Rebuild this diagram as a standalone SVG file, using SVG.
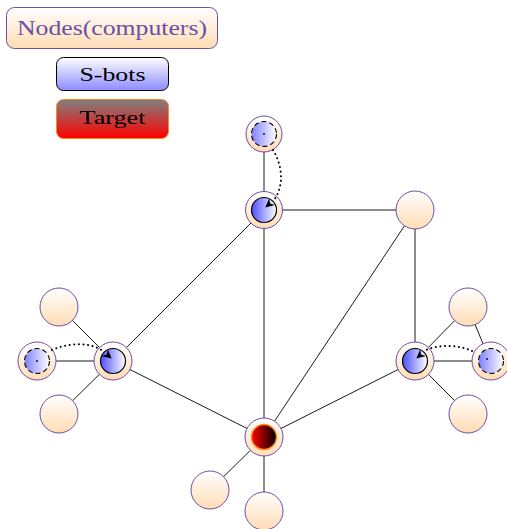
<svg xmlns="http://www.w3.org/2000/svg" width="507" height="529" viewBox="0 0 507 529">
  <defs>
    <linearGradient id="peach" x1="0" y1="0" x2="0" y2="1">
      <stop offset="0" stop-color="#ffffff"/>
      <stop offset="1" stop-color="#ffdcb4"/>
    </linearGradient>
    <linearGradient id="botLegend" x1="0" y1="0" x2="0" y2="1">
      <stop offset="0" stop-color="#ffffff"/>
      <stop offset="1" stop-color="#8c8cff"/>
    </linearGradient>
    <linearGradient id="targetLegend" x1="0" y1="0" x2="0" y2="1">
      <stop offset="0" stop-color="#808080"/>
      <stop offset="1" stop-color="#ff0000"/>
    </linearGradient>
    <linearGradient id="bot" x1="0" y1="0" x2="1" y2="0">
      <stop offset="0" stop-color="#4d4dff"/>
      <stop offset="1" stop-color="#ffffff"/>
    </linearGradient>
    <linearGradient id="ghost" x1="0" y1="0" x2="1" y2="0">
      <stop offset="0" stop-color="#8080ff"/>
      <stop offset="1" stop-color="#ffffff"/>
    </linearGradient>
    <linearGradient id="target" x1="0" y1="0" x2="1" y2="0">
      <stop offset="0" stop-color="#ff0000"/>
      <stop offset="1" stop-color="#000000"/>
    </linearGradient>
    <marker id="tip" viewBox="0 0 10 10" refX="9" refY="5" markerWidth="9" markerHeight="9" markerUnits="userSpaceOnUse" orient="auto">
      <path d="M0,0 L10,5 L0,10 L3,5 Z" fill="#000"/>
    </marker>
    <style>
      .node { fill: url(#peach); stroke: #6a4fa8; stroke-width: 1; }
      .bot { fill: url(#bot); stroke: #000; stroke-width: 1.2; }
      .ghost { fill: url(#ghost); stroke: #000; stroke-width: 1.1; stroke-dasharray: 5 3; }
      .tgt { fill: url(#target); stroke: #ff8c1a; stroke-width: 1.5; }
      .edge { stroke: #000; stroke-width: 0.9; fill: none; }
      .move { stroke: #000; stroke-width: 2; stroke-dasharray: 0.1 4.5; stroke-linecap: round; fill: none; }
      .lbl { font-family: "Liberation Serif", "DejaVu Serif", serif; text-anchor: middle; }
    </style>
  </defs>

  <!-- legend -->
  <g id="legend-nodes">
    <rect x="6.5" y="7.5" width="211" height="41" rx="8" fill="url(#peach)" stroke="#6a4fa8"/>
    <text class="lbl" x="112" y="35" font-size="21" fill="#6a4fa8" textLength="190" lengthAdjust="spacingAndGlyphs">Nodes(computers)</text>
  </g>
  <g id="legend-sbots">
    <rect x="56.5" y="57.5" width="112" height="33" rx="7" fill="url(#botLegend)" stroke="#000"/>
    <text class="lbl" x="112.5" y="81" font-size="19" fill="#000" textLength="66" lengthAdjust="spacingAndGlyphs">S-bots</text>
  </g>
  <g id="legend-target">
    <rect x="56.5" y="99.5" width="112" height="39" rx="7" fill="url(#targetLegend)" stroke="#ff8c1a"/>
    <text class="lbl" x="112.5" y="124" font-size="19" fill="#000" textLength="66" lengthAdjust="spacingAndGlyphs">Target</text>
  </g>

  <!-- connectors -->
  <g id="edges">
    <line class="edge" x1="264" y1="134" x2="264" y2="210"/>
    <line class="edge" x1="264" y1="210" x2="415" y2="210"/>
    <line class="edge" x1="264" y1="210" x2="113" y2="361"/>
    <line class="edge" x1="264" y1="210" x2="264" y2="437"/>
    <line class="edge" x1="415" y1="210" x2="264" y2="437"/>
    <line class="edge" x1="415" y1="210" x2="415" y2="361"/>
    <line class="edge" x1="113" y1="361" x2="264" y2="437"/>
    <line class="edge" x1="415" y1="361" x2="264" y2="437"/>
    <line class="edge" x1="113" y1="361" x2="59" y2="307"/>
    <line class="edge" x1="113" y1="361" x2="37" y2="361"/>
    <line class="edge" x1="113" y1="361" x2="59" y2="414"/>
    <line class="edge" x1="415" y1="361" x2="468" y2="307"/>
    <line class="edge" x1="415" y1="361" x2="490" y2="361"/>
    <line class="edge" x1="415" y1="361" x2="468" y2="414"/>
    <line class="edge" x1="468" y1="307" x2="490" y2="361"/>
    <line class="edge" x1="264" y1="437" x2="210" y2="490"/>
    <line class="edge" x1="264" y1="437" x2="264" y2="511"/>
  </g>

  <!-- plain nodes -->
  <g id="n-415-210"><circle class="node" cx="415" cy="210" r="19"/></g>
  <g id="n-59-307"><circle class="node" cx="59" cy="307" r="19"/></g>
  <g id="n-59-414"><circle class="node" cx="59" cy="414" r="19"/></g>
  <g id="n-468-307"><circle class="node" cx="468" cy="307" r="19"/></g>
  <g id="n-468-414"><circle class="node" cx="468" cy="414" r="19"/></g>
  <g id="n-210-490"><circle class="node" cx="210" cy="490" r="19"/></g>
  <g id="n-264-511"><circle class="node" cx="264" cy="511" r="19"/></g>

  <!-- nodes holding previous bot positions -->
  <g id="n-264-134">
    <circle class="node" cx="264" cy="134" r="18"/>
    <circle class="ghost" cx="264" cy="134" r="12.5"/>
    <circle cx="264" cy="134" r="0.9" fill="#000"/>
  </g>
  <g id="n-37-361">
    <circle class="node" cx="37" cy="361" r="19"/>
    <circle class="ghost" cx="37" cy="361" r="12.5"/>
    <circle cx="37" cy="361" r="0.9" fill="#000"/>
  </g>
  <g id="n-490-361">
    <circle class="node" cx="491" cy="361" r="19"/>
    <circle class="ghost" cx="491" cy="361" r="12.5"/>
    <circle cx="487" cy="359" r="0.9" fill="#000"/>
  </g>

  <!-- nodes holding bots -->
  <g id="n-264-210">
    <circle class="node" cx="264" cy="210" r="18.5"/>
    <circle class="bot" cx="264" cy="210" r="12.5"/>
  </g>
  <g id="n-113-361">
    <circle class="node" cx="113" cy="361" r="19"/>
    <circle class="bot" cx="113" cy="361" r="12.5"/>
  </g>
  <g id="n-415-361">
    <circle class="node" cx="415" cy="361" r="19"/>
    <circle class="bot" cx="415" cy="361" r="12.5"/>
  </g>

  <!-- target node -->
  <g id="n-264-437">
    <circle class="node" cx="264" cy="437" r="19"/>
    <circle class="tgt" cx="264" cy="437" r="12.5"/>
  </g>

  <!-- bot moves -->
  <g id="moves">
    <path class="move" d="M273,150 C284,168 283,188 274,200"/>
    <path d="M273,150 C284,168 283,188 274,200 L266,207" fill="none" stroke="none" marker-end="url(#tip)"/>
    <path class="move" d="M52,350 C70,342 92,342 104,352"/>
    <path d="M104,352 L111,358" fill="none" stroke="none" marker-end="url(#tip)"/>
    <path class="move" d="M472,351 C460,345 440,344 426,350"/>
    <path d="M426,350 L417,358" fill="none" stroke="none" marker-end="url(#tip)"/>
  </g>
</svg>
